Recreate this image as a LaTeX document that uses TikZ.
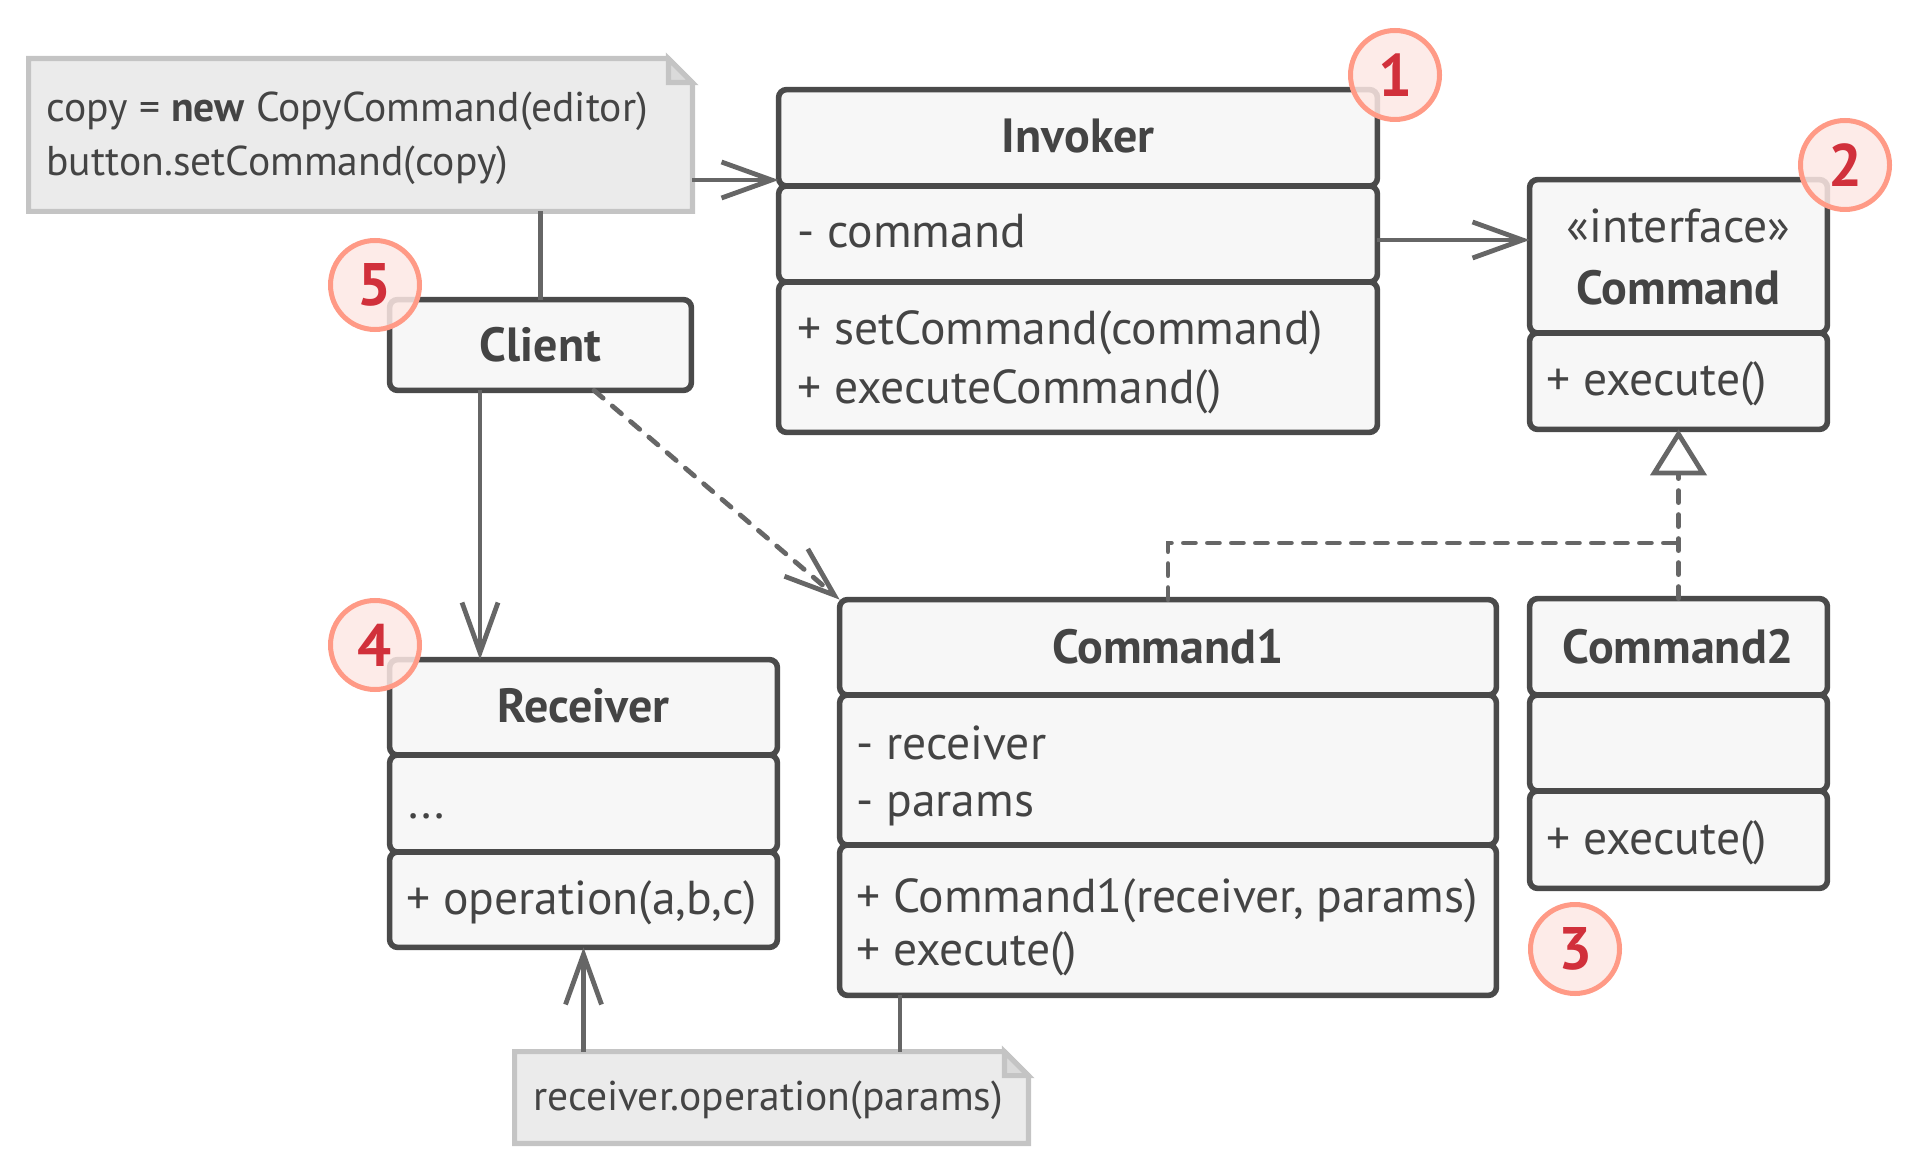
\documentclass[tikz,border=0pt]{standalone}
\usepackage{fontspec}
\setmainfont{PT Sans}
\usetikzlibrary{arrows.meta}
\definecolor{boxline}{HTML}{4A4A4A}
\definecolor{boxfill}{HTML}{F7F7F7}
\definecolor{txt}{HTML}{444444}
\definecolor{connc}{HTML}{666666}
\definecolor{notefill}{HTML}{EBEBEB}
\definecolor{noteline}{HTML}{C4C4C4}
\definecolor{foldfill}{HTML}{DADADA}
\definecolor{badgefill}{HTML}{FDE8E4}
\definecolor{badgeline}{HTML}{FF9A86}
\definecolor{badgetxt}{HTML}{D1303B}
\begin{document}
\begin{tikzpicture}[x=0.5pt,y=-0.5pt,
  cls/.style={rectangle, inner sep=0pt},
  comp/.style={draw=boxline, fill=boxfill, line width=2.8pt, rounded corners=4pt},
  ttl/.style={anchor=base, inner sep=0pt, text=txt, font=\fontsize{24}{28}\selectfont\bfseries},
  mem/.style={anchor=base west, inner sep=0pt, text=txt, font=\fontsize{23.8}{28}\selectfont},
  ctr/.style={anchor=base, inner sep=0pt, text=txt, font=\fontsize{23.8}{28}\selectfont},
  notetxt/.style={anchor=base west, inner sep=0pt, text=txt, font=\fontsize{20.8}{25}\selectfont},
  noteanchor/.style={rectangle, inner sep=0pt},
  notefillst/.style={fill=notefill},
  notedraw/.style={draw=noteline, line width=2.6pt, line join=miter},
  conn/.style={draw=connc, line width=2.4pt},
  openarrow/.style={-{Straight Barb[length=25pt,width=18pt,line width=2.4pt]}},
  dashline/.style={dash pattern=on 6pt off 6pt, line cap=round},
  realize/.style={-{Triangle[open,length=23pt,width=28pt,line width=2.4pt,fill=white]}},
  badge/.style={circle, draw=badgeline, fill=badgefill, fill opacity=0.85, text opacity=1, line width=2.5pt, minimum size=44.5pt, inner sep=0pt, text=badgetxt, font=\fontsize{30}{30}\selectfont\bfseries}
]
\useasboundingbox (0,0) rectangle (1920,1170);

% ---------- Note 1 ----------
\node[noteanchor, minimum width=331.5pt, minimum height=76pt] (note1) at (360.5,135) {};
\path[notefillst] (note1.north west) -- ([xshift=-12pt]note1.north east) -- ([yshift=-12pt]note1.north east) -- (note1.south east) -- (note1.south west) -- cycle;
\path[notedraw] (note1.north west) -- ([xshift=-12pt]note1.north east) -- ([yshift=-12pt]note1.north east) -- (note1.south east) -- (note1.south west) -- cycle;
\path[notedraw, fill=foldfill] ([xshift=-12pt]note1.north east) -- ([xshift=-12pt,yshift=-12pt]note1.north east) -- ([yshift=-12pt]note1.north east) -- cycle;
\node[notetxt] (n1a) at (46,122) {copy = \textbf{new} CopyCommand(editor)};
\node[notetxt] (n1b) at (46,176) {button.setCommand(copy)};

% ---------- Note 2 ----------
\node[noteanchor, minimum width=256.5pt, minimum height=45.5pt] (note2) at (771.5,1097.5) {};
\path[notefillst] (note2.north west) -- ([xshift=-12pt]note2.north east) -- ([yshift=-12pt]note2.north east) -- (note2.south east) -- (note2.south west) -- cycle;
\path[notedraw] (note2.north west) -- ([xshift=-12pt]note2.north east) -- ([yshift=-12pt]note2.north east) -- (note2.south east) -- (note2.south west) -- cycle;
\path[notedraw, fill=foldfill] ([xshift=-12pt]note2.north east) -- ([xshift=-12pt,yshift=-12pt]note2.north east) -- ([yshift=-12pt]note2.north east) -- cycle;
\node[notetxt] (n2a) at (533,1110) {receiver.operation(params)};

% ---------- Invoker ----------
\node[cls, minimum width=299pt, minimum height=171pt] (inv) at (1078,261) {};
\draw[comp] (inv.north west) rectangle (inv.east |- 0,186);
\draw[comp] (inv.west |- 0,186) rectangle (inv.east |- 0,282);
\draw[comp] (inv.west |- 0,282) rectangle (inv.south east);
\node[ttl] (invT) at (1078,153) {Invoker};
\node[mem] (invA) at (797,248) {- command};
\node[mem] (invM1) at (797,345) {+ setCommand(command)};
\node[mem] (invM2) at (797,404) {+ executeCommand()};

% ---------- Command interface ----------
\node[cls, minimum width=148.5pt, minimum height=124.5pt] (cmd) at (1678.5,304.5) {};
\draw[comp] (cmd.north west) rectangle (cmd.east |- 0,333);
\draw[comp] (cmd.west |- 0,333) rectangle (cmd.south east);
\node[ctr] (cmdS) at (1678.5,243) {«interface»};
\node[ttl] (cmdT) at (1678.5,305) {Command};
\node[mem] (cmdM) at (1546,396) {+ execute()};

% ---------- Client ----------
\node[cls, minimum width=150.5pt, minimum height=45pt] (client) at (540.5,345) {};
\draw[comp] (client.north west) rectangle (client.south east);
\node[ttl] (clientT) at (540.5,362) {Client};

% ---------- Receiver ----------
\node[cls, minimum width=193.5pt, minimum height=143.5pt] (recv) at (583.5,803.5) {};
\draw[comp] (recv.north west) rectangle (recv.east |- 0,755);
\draw[comp] (recv.west |- 0,755) rectangle (recv.east |- 0,852);
\draw[comp] (recv.west |- 0,852) rectangle (recv.south east);
\node[ttl] (recvT) at (583.5,722) {Receiver};
\node[mem] (recvA) at (408,818) {...};
\node[mem] (recvM) at (406,914) {+ operation(a,b,c)};

% ---------- Command1 ----------
\node[cls, minimum width=328pt, minimum height=197.5pt] (c1) at (1168,797.5) {};
\draw[comp] (c1.north west) rectangle (c1.east |- 0,695);
\draw[comp] (c1.west |- 0,695) rectangle (c1.east |- 0,845);
\draw[comp] (c1.west |- 0,845) rectangle (c1.south east);
\node[ttl] (c1T) at (1168,663) {Command1};
\node[mem] (c1A1) at (856,759) {- receiver};
\node[mem] (c1A2) at (856,816) {- params};
\node[mem] (c1M1) at (856,912) {+ Command1(receiver, params)};
\node[mem] (c1M2) at (856,965) {+ execute()};

% ---------- Command2 ----------
\node[cls, minimum width=148.5pt, minimum height=144.5pt] (c2) at (1678.5,743.5) {};
\draw[comp] (c2.north west) rectangle (c2.east |- 0,695);
\draw[comp] (c2.west |- 0,695) rectangle (c2.east |- 0,791);
\draw[comp] (c2.west |- 0,791) rectangle (c2.south east);
\node[ttl] (c2T) at (1678.5,663) {Command2};
\node[mem] (c2M) at (1546,854) {+ execute()};

% ---------- Connectors ----------
\draw[conn, openarrow] (note1.east |- 0,180) -- (inv.west |- 0,180);
\draw[conn] (client.north |- note1.south) -- (client.north);
\draw[conn, openarrow] (inv.east |- 0,240) -- (cmd.west |- 0,240);
\draw[conn, openarrow] (client.south -| 480,0) -- (recv.north -| 480,0);
\draw[conn, dashline, openarrow] (client.south -| 594,0) -- (c1.north west);
\coordinate (join) at (c2.north |- 0,543);
\draw[conn, dashline] (c1.north) |- (join);
\draw[conn, dashline, realize] (c2.north) -- (cmd.south);
\draw[conn, openarrow] (recv.south |- note2.north) -- (recv.south);
\draw[conn] (c1.south -| 900,0) -- (note2.north -| 900,0);

% ---------- Badges ----------
\node[badge] (b1) at (1395,75) {1};
\node[badge] (b2) at (1845,165) {2};
\node[badge] (b3) at (1575,949) {3};
\node[badge] (b4) at (375,645) {4};
\node[badge] (b5) at (375,285) {5};
\end{tikzpicture}
\end{document}
